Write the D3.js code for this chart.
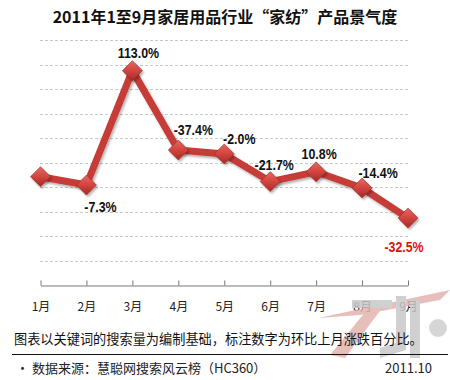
<!DOCTYPE html>
<html><head><meta charset="utf-8">
<script src="https://cdn.jsdelivr.net/npm/d3@7"></script>
<style>body{margin:0;background:#fff}svg{display:block}</style>
</head><body>
<svg id="c" width="450" height="380"></svg>
<script>
// ---- data ----
const months = ["1月","2月","3月","4月","5月","6月","7月","8月","9月"];
const indexValues = [44.2, 40.8, 87.5, 55.1, 53.5, 42.2, 46.2, 39.6, 27.3];
const changeLabels = ["", "-7.3%", "113.0%", "-37.4%", "-2.0%", "-21.7%", "10.8%", "-14.4%", "-32.5%"];
const yTicks = [0,10,20,30,40,50,60,70,80,90,100];
const titleText = "2011年1至9月家居用品行业“家纺”产品景气度";
const noteText = "图表以关键词的搜索量为编制基础，标注数字为环比上月涨跌百分比。";
const sourceText = "• 数据来源：慧聪网搜索风云榜（HC360）";
const dateText = "2011.10";

// ---- drawing ----
const svg = d3.select("#c");
const x = d3.scalePoint().domain(months).range([40.5, 408]);
const y = d3.scaleLinear().domain([0,100]).range([285, 40]);

const defs = svg.append("defs");
const g1 = defs.append("linearGradient").attr("id","dg").attr("x1","0").attr("y1","0").attr("x2","0").attr("y2","1");
g1.append("stop").attr("offset","0").attr("stop-color","#e26a63");
g1.append("stop").attr("offset","0.5").attr("stop-color","#d2443e");
g1.append("stop").attr("offset","1").attr("stop-color","#a52a26");
const f = defs.append("filter").attr("id","sh").attr("x","-20%").attr("y","-20%").attr("width","140%").attr("height","140%");
f.append("feDropShadow").attr("dx",1.5).attr("dy",2).attr("stdDeviation",1.2).attr("flood-color","#000").attr("flood-opacity",0.3);

// title
svg.append("text").attr("x",225).attr("y",23).attr("text-anchor","middle")
  .attr("font-family","'Noto Sans CJK SC'").attr("font-weight","bold").attr("font-size",16)
  .attr("fill","#111").text(titleText);

// gridlines
svg.append("g").selectAll("line").data(yTicks.slice(1)).join("line")
  .attr("x1",40).attr("x2",408).attr("y1",d=>Math.round(y(d))+0.5).attr("y2",d=>Math.round(y(d))+0.5)
  .attr("stroke","#c8c8c8").attr("stroke-dasharray","3,2").attr("stroke-width",1);

// x axis
const ax = svg.append("g").attr("transform","translate(0,285.5)")
  .call(d3.axisBottom(x).tickSizeInner(-5).tickSizeOuter(0).tickPadding(17));
ax.select(".domain").attr("stroke","#777");
ax.selectAll(".tick line").attr("stroke","#777");
ax.selectAll(".tick text").attr("font-family","'Noto Sans CJK SC'").attr("font-size",12).attr("fill","#222");

// line
const line = d3.line().x((d,i)=>x(months[i])).y(d=>y(d));
svg.append("path").datum(indexValues).attr("d",line).attr("fill","none")
  .attr("stroke","#c63c37").attr("stroke-width",7).attr("stroke-linejoin","round")
  .attr("filter","url(#sh)");

// markers
const r = 10;
svg.append("g").selectAll("path").data(indexValues).join("path")
  .attr("transform",(d,i)=>`translate(${x(months[i])},${y(d)})`)
  .attr("d",`M0,${-r}L${r},0L0,${r}L${-r},0Z`)
  .attr("fill","url(#dg)").attr("stroke","#9e2622").attr("stroke-width",0.6)
  .attr("filter","url(#sh)");

// labels (condensed bold)
const off = [[0,0],[14,27],[6,-13],[15,-15],[15,-10],[4,-12],[3,-13],[16,-10],[-4,34]];
svg.append("g").selectAll("text").data(changeLabels).join("text")
  .attr("transform",(d,i)=>`translate(${x(months[i])+off[i][0]},${y(indexValues[i])+off[i][1]}) scale(0.8,1)`)
  .attr("text-anchor","middle")
  .attr("font-family","'Liberation Sans',Arial,sans-serif").attr("font-weight","bold").attr("font-size",15.5)
  .attr("fill",(d,i)=>i===changeLabels.length-1?"#e0120c":"#111").text(d=>d);

// ZJF logo watermark (rough)
const wm = svg.append("g").attr("opacity",0.85);
wm.append("path").attr("d","M318,318 L450,290 L440,300 L360,315 Z").attr("fill","#e2b4b0");
wm.append("path").attr("d","M330,355 L375,300 L385,304 L345,358 Z").attr("fill","#e2b4b0");
wm.append("path").attr("d","M352,300 L392,300 L392,308 L352,308 Z").attr("fill","#c8c8c8");
wm.append("path").attr("d","M396,296 L406,296 L406,350 L380,358 L380,348 L396,343 Z").attr("fill","#c8c8c8");
wm.append("path").attr("d","M410,300 L420,300 L420,358 L410,358 Z").attr("fill","#c8c8c8");
wm.append("circle").attr("cx",438).attr("cy",328).attr("r",9).attr("fill","#cfcfcf");

// note
svg.append("text").attr("x",14).attr("y",344).attr("font-family","'Noto Sans CJK SC'").attr("font-size",13.2)
  .attr("fill","#111").text(noteText);
svg.append("line").attr("x1",12).attr("x2",448).attr("y1",354.5).attr("y2",354.5).attr("stroke","#111").attr("stroke-width",1);
svg.append("text").attr("x",16).attr("y",373).attr("font-family","'Noto Sans CJK SC'").attr("font-size",13)
  .attr("fill","#222").text(sourceText);
svg.append("text").attr("x",432).attr("y",373).attr("text-anchor","end").attr("font-family","'Noto Sans CJK SC'").attr("font-size",13)
  .attr("fill","#222").text(dateText);
</script>
</body></html>
